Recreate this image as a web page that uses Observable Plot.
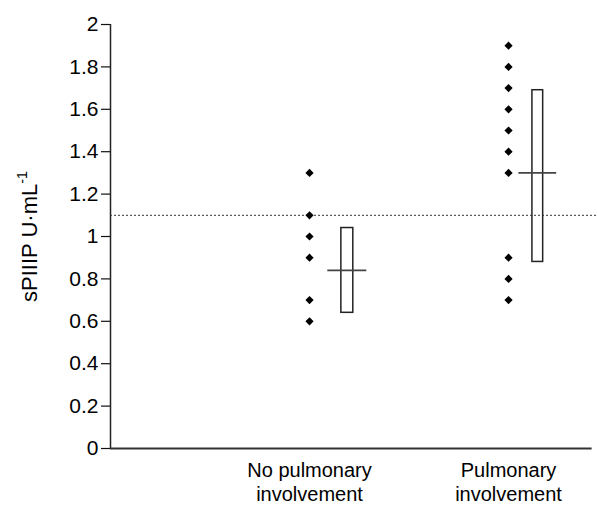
<!DOCTYPE html>
<html>
<head>
<meta charset="utf-8">
<script src="https://cdn.jsdelivr.net/npm/d3@7"></script>
<script src="https://cdn.jsdelivr.net/npm/@observablehq/plot@0.6"></script>
<style>
  html, body { margin: 0; padding: 0; background: #fff; }
  #chart { width: 597px; height: 506px; }
</style>
</head>
<body>
<div id="chart"></div>
<script>
// ---- data ----
const categories = ["No pulmonary\ninvolvement", "Pulmonary\ninvolvement"];
const noPulmonaryValues = [1.3, 1.1, 1.0, 0.9, 0.7, 0.6];
const pulmonaryValues = [1.9, 1.8, 1.7, 1.6, 1.5, 1.4, 1.3, 0.9, 0.8, 0.7];
const boxLow = [0.64, 0.88];
const boxHigh = [1.04, 1.69];
const medians = [0.84, 1.30];
const cutoff = 1.1;
const yTicks = [0, 0.2, 0.4, 0.6, 0.8, 1, 1.2, 1.4, 1.6, 1.8, 2];
const yLabel = "sPIIIP U·mL";
const yLabelSup = "-1";

// ---- layout (not data) ----
const boxOffset = [0.19, 0.147];
const boxHalf = [0.03, 0.027];
const medHalf = [0.098, 0.095];
const xMax = 2.447;
const axisEnd = 2.42;

const points = [
  ...noPulmonaryValues.map(v => ({g: 1, v})),
  ...pulmonaryValues.map(v => ({g: 2, v}))
];
const boxes = categories.map((c, i) => ({
  x1: i + 1 + boxOffset[i] - boxHalf[i],
  x2: i + 1 + boxOffset[i] + boxHalf[i],
  y1: boxLow[i], y2: boxHigh[i]
}));
const meds = categories.map((c, i) => ({
  x1: i + 1 + boxOffset[i] - medHalf[i],
  x2: i + 1 + boxOffset[i] + medHalf[i],
  y: medians[i]
}));

const chart = Plot.plot({
  width: 597,
  height: 506,
  marginLeft: 110,
  marginRight: 0,
  marginTop: 24,
  marginBottom: 58,
  style: {fontFamily: "'Liberation Sans', Arial, Helvetica, sans-serif", fontSize: "21px", color: "#000", background: "#fff"},
  x: {domain: [0, xMax], axis: null},
  y: {domain: [0, 2], axis: null},
  marks: [
    Plot.axisY({ticks: yTicks, tickSize: 9, tickPadding: 3, stroke: "#111", strokeWidth: 1.2,
      tickFormat: d => String(+d.toFixed(1)), label: null, fontSize: 21, fill: "#000"}),
    Plot.axisX({ticks: [1, 2], tickSize: 0, tickPadding: 11, tickFormat: i => categories[i - 1],
      label: null, fontSize: 20, lineHeight: 1.2, fill: "#000"}),
    Plot.ruleX([0], {stroke: "#222", strokeWidth: 1.5}),
    Plot.ruleY([0], {x1: 0, x2: axisEnd, stroke: "#333", strokeWidth: 1.8}),
    Plot.ruleY([cutoff], {stroke: "#333", strokeWidth: 1, strokeDasharray: "2,2"}),
    Plot.rect(boxes, {x1: "x1", x2: "x2", y1: "y1", y2: "y2", fill: "none", stroke: "#222", strokeWidth: 1.5}),
    Plot.ruleY(meds, {y: "y", x1: "x1", x2: "x2", stroke: "#444", strokeWidth: 1.6}),
    Plot.dot(points, {x: "g", y: "v", symbol: "diamond2", r: 3.7, fill: "#000", stroke: "none"}),
    Plot.text([yLabel], {y: [1.0], frameAnchor: "left", textAnchor: "middle", dx: -81, rotate: -90,
      fontSize: 22, fill: "#000", className: "ylab"})
  ]
});
document.getElementById("chart").appendChild(chart);

// superscript on the y label
d3.select(chart).select("g.ylab text").each(function() {
  const t = d3.select(this);
  t.text(null);
  t.append("tspan").text(yLabel);
  t.append("tspan").attr("dy", "-10").attr("font-size", "0.65em").text(yLabelSup);
});
</script>
</body>
</html>
